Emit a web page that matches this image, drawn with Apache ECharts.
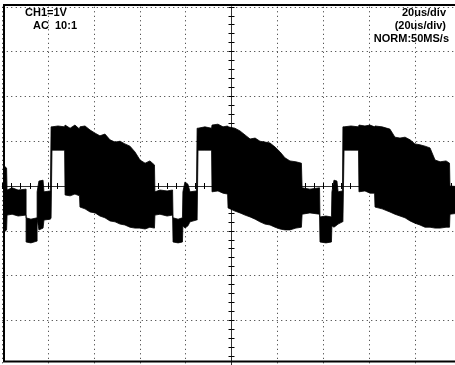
<!DOCTYPE html>
<html>
<head>
<meta charset="utf-8">
<script src="https://cdn.jsdelivr.net/npm/echarts@6/dist/echarts.min.js"></script>
<style>
  html, body { margin: 0; padding: 0; background: #fff; }
  #scope { width: 455px; height: 365px; }
</style>
</head>
<body>
<div id="scope"></div>
<script>
// CH1 capture, 20 us/div horizontal, 1 V/div vertical.
// The trace is a dense burst, so it is stored as its envelope:
// for each time (us) the top and bottom of the band (V).
const timeUs = [
  -99.2, -98.1, -97.9, -95.7, -93.1, -89.6, -89.6, -87.5, -84.8, -84.8,
  -84.0, -82.2, -81.8, -79.0, -78.7, -78.3, -75.7, -72.8, -72.6, -70.4,
  -68.3, -66.3, -66.1, -63.9, -61.7, -59.5, -57.4, -55.2, -53.0, -50.8,
  -48.6, -46.5, -44.3, -42.1, -39.9, -37.7, -35.6, -33.6, -33.4, -31.2,
  -28.1, -25.7, -25.5, -23.3, -21.4, -21.2, -20.3, -19.0, -18.1, -15.3,
  -15.0, -14.6, -11.6, -8.7, -8.5, -5.9, -3.7, -1.7, -1.5, 1.5,
  3.7, 5.9, 8.1, 10.3, 12.4, 14.6, 16.8, 19.0, 21.2, 23.3,
  25.5, 28.1, 30.5, 30.8, 34.2, 38.4, 38.6, 41.2, 43.6, 43.8,
  44.7, 46.0, 46.5, 48.4, 48.6, 49.1, 52.1, 55.4, 55.6, 58.2,
  60.4, 62.4, 62.6, 65.7, 69.1, 71.3, 73.5, 75.7, 77.9, 80.0,
  82.2, 84.4, 86.6, 88.8, 91.0, 93.6, 95.1, 95.3, 100
];
const upperV = [
  0.45, 0.40, -0.09, -0.04, -0.09, -0.07, -0.71, -0.74, -0.71, -0.13,
  0.11, 0.13, -0.13, -0.11, 1.32, 1.32, 1.34, 1.32, 1.36, 1.29,
  1.36, 1.27, 1.32, 1.34, 1.25, 1.18, 1.12, 1.16, 1.03, 0.98,
  1.00, 0.94, 0.89, 0.76, 0.58, 0.51, 0.56, 0.47, -0.13, -0.09,
  -0.11, -0.09, -0.71, -0.74, -0.71, -0.13, 0.09, 0.04, -0.13, -0.11,
  1.29, 1.29, 1.32, 1.29, 1.36, 1.38, 1.32, 1.34, 1.32, 1.29,
  1.23, 1.14, 1.05, 1.07, 1.00, 0.98, 0.96, 0.87, 0.76, 0.63,
  0.56, 0.54, 0.51, -0.04, -0.07, -0.04, -0.69, -0.67, -0.69, -0.13,
  0.13, 0.11, -0.13, -0.11, 1.32, 1.32, 1.34, 1.32, 1.36, 1.34,
  1.36, 1.32, 1.34, 1.32, 1.27, 1.09, 1.07, 1.09, 1.03, 0.94,
  0.92, 0.89, 0.85, 0.58, 0.54, 0.56, 0.51, 0.00, -0.02
];
const lowerV = [
  -1.03, -0.98, -0.65, -0.63, -0.67, -0.65, -1.25, -1.27, -1.23, -0.74,
  -0.98, -0.94, -0.76, -0.74, -0.71, 0.80, 0.80, 0.80, -0.20, -0.22,
  -0.18, -0.22, -0.47, -0.51, -0.58, -0.60, -0.67, -0.71, -0.78, -0.80,
  -0.85, -0.87, -0.92, -0.94, -0.94, -0.96, -0.92, -0.94, -0.65, -0.63,
  -0.67, -0.65, -1.25, -1.27, -1.25, -0.89, -0.94, -0.89, -0.80, -0.76,
  -0.76, 0.80, 0.80, 0.80, -0.13, -0.11, -0.16, -0.18, -0.49, -0.56,
  -0.60, -0.65, -0.69, -0.74, -0.80, -0.85, -0.87, -0.92, -0.96, -0.98,
  -0.98, -0.94, -0.92, -0.63, -0.60, -0.63, -1.25, -1.27, -1.25, -0.89,
  -0.92, -0.87, -0.85, -0.80, -0.80, 0.80, 0.80, 0.80, -0.13, -0.11,
  -0.16, -0.16, -0.47, -0.51, -0.58, -0.63, -0.67, -0.71, -0.78, -0.83,
  -0.87, -0.92, -0.92, -0.94, -0.94, -0.92, -0.92, -0.63, -0.60
];

// Screen readouts
const readoutLeft = ['CH1=1V', 'AC  10:1'];
const readoutRight = ['20us/div', '(20us/div)', 'NORM:50MS/s'];

// Graticule: 10 x 20 us, 8 x 1 V, centre at zero
const timeRange = { min: -100, max: 100, perDiv: 20 };
const voltRange = { min: -4, max: 4, perDiv: 1 };

const INK = '#000';
const GRID_DOTS = { color: '#2a2a2a', width: 1, type: [1, 3.5] };
const CENTRE_LINE = { color: '#333', width: 1 };
const FONT = 'bold 11px "Liberation Sans", Arial, sans-serif';

function timeAxis(position, withGrid) {
  return {
    type: 'value',
    position: position,
    min: timeRange.min, max: timeRange.max, interval: timeRange.perDiv,
    axisLine: { show: withGrid, onZero: true, lineStyle: CENTRE_LINE },
    axisTick: { show: true, inside: false, length: 3, lineStyle: { color: INK, width: 1 } },
    minorTick: { show: true, splitNumber: 5, length: 3, lineStyle: { color: INK, width: 1 } },
    axisLabel: { show: false },
    splitLine: { show: withGrid, lineStyle: GRID_DOTS },
    minorSplitLine: { show: false }
  };
}
function voltAxis(position, withGrid) {
  return {
    type: 'value',
    position: position,
    min: voltRange.min, max: voltRange.max, interval: voltRange.perDiv,
    axisLine: { show: withGrid, onZero: true, lineStyle: CENTRE_LINE },
    axisTick: { show: true, inside: false, length: 3, lineStyle: { color: INK, width: 1 } },
    minorTick: { show: true, splitNumber: 5, length: 3, lineStyle: { color: INK, width: 1 } },
    axisLabel: { show: false },
    splitLine: { show: withGrid, lineStyle: GRID_DOTS },
    minorSplitLine: { show: false }
  };
}

const chart = echarts.init(document.getElementById('scope'), null, { renderer: 'canvas' });

const textItems = [];
readoutLeft.forEach((t, i) => {
  textItems.push({
    type: 'text', silent: true, z: 10,
    style: { text: t, x: i === 0 ? 25 : 33, y: 7 + i * 13, font: FONT, fill: INK,
             align: 'left', verticalAlign: 'top', textAlign: 'left', textVerticalAlign: 'top' }
  });
});
readoutRight.forEach((t, i) => {
  textItems.push({
    type: 'text', silent: true, z: 10,
    style: { text: t, x: i === 2 ? 449 : 446, y: 7 + i * 13, font: FONT, fill: INK,
             align: 'right', verticalAlign: 'top', textAlign: 'right', textVerticalAlign: 'top' }
  });
});

chart.setOption({
  animation: false,
  backgroundColor: '#fff',
  grid: {
    left: 2.25, top: 6.8, width: 458.5, height: 358.4,
    containLabel: false, outerBoundsMode: 'none', show: false
  },
  xAxis: [timeAxis('bottom', true), timeAxis('top', false)],
  yAxis: [voltAxis('left', true), voltAxis('right', false)],
  series: [{
    type: 'custom',
    xAxisIndex: 0, yAxisIndex: 0,
    silent: true,
    clip: true,
    z: 5,
    data: [[0, 0]],
    renderItem: function (params, api) {
      const top = timeUs.map((t, i) => api.coord([t, upperV[i]]));
      const bottom = timeUs.map((t, i) => api.coord([t, lowerV[i]])).reverse();
      return {
        type: 'polygon',
        shape: { points: top.concat(bottom) },
        style: { fill: INK, stroke: INK, lineWidth: 0.8 }
      };
    }
  }],
  graphic: [
    {
      type: 'polyline', silent: true, z: 9,
      shape: { points: [[455, 5], [4, 5], [4, 361.5], [455, 361.5]] },
      style: { stroke: INK, lineWidth: 2, fill: null }
    }
  ].concat(textItems)
});
</script>
</body>
</html>
